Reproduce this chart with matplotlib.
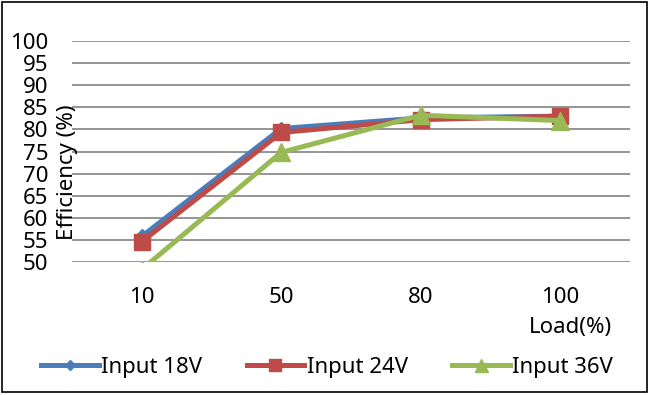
import matplotlib
matplotlib.use("Agg")
import matplotlib.pyplot as plt
from matplotlib.patches import Rectangle
from matplotlib.lines import Line2D

plt.rcParams['font.family'] = ['Noto Sans', 'DejaVu Sans']

categories = ["10", "50", "80", "100"]
input_18v = [55.8, 80.2, 82.6, 83.0]
input_24v = [54.6, 79.3, 82.2, 83.0]
input_36v = [48.3, 74.8, 83.2, 82.0]
yticks = [50, 55, 60, 65, 70, 75, 80, 85, 90, 95, 100]

FS = 16

fig = plt.figure(figsize=(6.5, 3.95), dpi=100)
ax = fig.add_axes([72/650, 1-262/395, (630-72)/650, (262-41)/395])

x = range(len(categories))
series = [
    ("Input 18V", input_18v, "#4a7ebb", "D", 7),
    ("Input 24V", input_24v, "#be4b48", "s", 12),
    ("Input 36V", input_36v, "#98b954", "^", 13),
]
for name, vals, col, mk, ms in series:
    ax.plot(x, vals, color=col, lw=3.6, marker=mk, markersize=ms,
            markerfacecolor=col, markeredgecolor=col, label=name,
            solid_joinstyle='miter', zorder=3)

ax.set_xlim(-0.5, 3.5)
ax.set_ylim(50, 100)
ax.set_yticks(yticks)
ax.set_yticklabels([str(v) for v in yticks], fontsize=FS)
ax.set_xticks(list(x))
ax.set_xticklabels(categories, fontsize=FS)
ax.tick_params(length=0)
ax.tick_params(axis='y', pad=17)
ax.tick_params(axis='x', pad=18)
ax.grid(axis='y', color='#8c8c8c', lw=1.3)
ax.set_axisbelow(True)
for s in ax.spines.values():
    s.set_visible(False)

fig.text(67/650, 1-172/395, "Efficiency (%)", rotation=90, fontsize=FS,
         ha='center', va='center')
fig.text(612/650, 1-327/395, "Load(%)", fontsize=FS, ha='right', va='center')

handles = [Line2D([0], [0], color=c, lw=3.6, marker=m, markersize=ms*0.72,
                  markerfacecolor=c, markeredgecolor=c)
           for _, _, c, m, ms in series]
fig.legend(handles, [s[0] for s in series], loc='center',
           bbox_to_anchor=(327/650, 1-367/395), ncol=3, frameon=False,
           fontsize=FS, handlelength=2.6, handletextpad=0.1,
           columnspacing=2.0)

fig.patches.append(Rectangle((2/650, 3/395), 645/650, 390/395,
                             transform=fig.transFigure, fill=False,
                             edgecolor='black', lw=1.2))

fig.savefig("out.png", dpi=100)
